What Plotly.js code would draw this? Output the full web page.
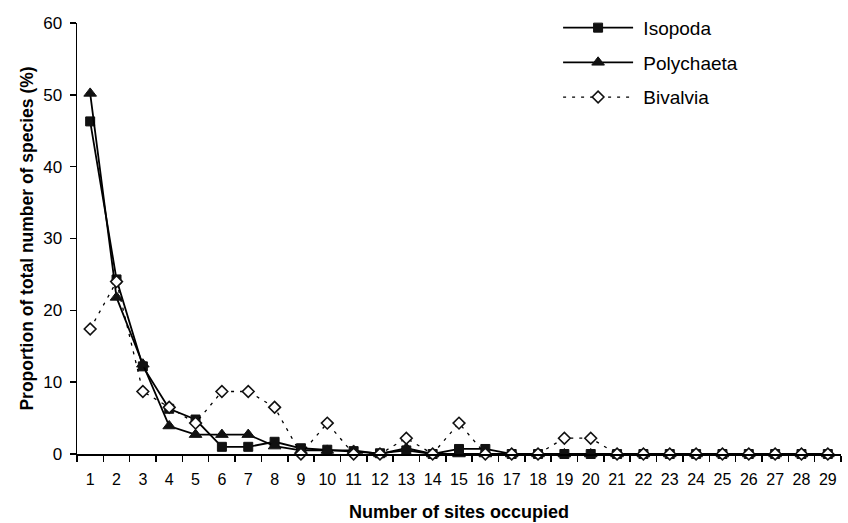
<!DOCTYPE html>
<html>
<head>
<meta charset="utf-8">
<script src="https://cdn.plot.ly/plotly-3.0.1.min.js"></script>
<style>html,body{margin:0;padding:0;background:#fff;}#chart{width:848px;height:523px;}</style>
</head>
<body>
<div id="chart"></div>
<script>
const sites = ["1","2","3","4","5","6","7","8","9","10","11","12","13","14","15","16","17","18","19","20","21","22","23","24","25","26","27","28","29"];
const isopoda =    [46.3, 24.3, 12.2, 6.3, 4.8, 1.0, 1.0, 1.7, 0.8, 0.6, 0.4, 0.1, 0.5, 0, 0.7, 0.7, 0, 0, 0, 0, 0, 0, 0, 0, 0, 0, 0, 0, 0];
const polychaeta = [50.2, 21.8, 12.5, 3.9, 2.7, 2.7, 2.7, 1.1, 0.5, 0.5, 0.5, 0, 0.8, 0, 0, 0, 0, 0, 0, 0, 0, 0, 0, 0, 0, 0, 0, 0, 0];
const bivalvia =   [17.4, 24.0, 8.7, 6.5, 4.3, 8.7, 8.7, 6.5, 0, 4.3, 0, 0, 2.2, 0, 4.3, 0, 0, 0, 2.2, 2.2, 0, 0, 0, 0, 0, 0, 0, 0, 0];
const seriesNames = ["Isopoda", "Polychaeta", "Bivalvia"];

const FONT = "Liberation Sans, Arial, Helvetica, sans-serif";
const traces = [
  {x: sites, y: isopoda, name: "\u00a0" + seriesNames[0], legendgroup: "a", type: "scatter", mode: "lines+markers", cliponaxis: false,
   line: {color: "#000", width: 1.8},
   marker: {symbol: "square", size: 9, color: "#111", line: {color: "#111", width: 1}}},
  {x: sites, y: polychaeta, name: "\u00a0" + seriesNames[1], legendgroup: "b", type: "scatter", mode: "lines+markers", cliponaxis: false,
   line: {color: "#000", width: 1.8},
   marker: {symbol: "triangle-up", size: 11, color: "#111", line: {color: "#111", width: 1}}},
  {x: sites, y: bivalvia, name: "\u00a0" + seriesNames[2], legendgroup: "c", type: "scatter", mode: "lines+markers", cliponaxis: false,
   line: {color: "#000", width: 1.3, dash: "3px,6px"},
   marker: {symbol: "diamond", size: 9, color: "#fff", line: {color: "#111", width: 1.6}}}
];

const layout = {
  width: 848, height: 523,
  margin: {l: 77, r: 7, t: 23, b: 69, autoexpand: false},
  paper_bgcolor: "#fff", plot_bgcolor: "#fff",
  font: {family: FONT, color: "#000"},
  showlegend: true,
  legend: {x: 0.6297, xanchor: "left", y: 1.033, yanchor: "top", font: {size: 19, family: FONT},
           traceorder: "grouped", tracegroupgap: 7, itemwidth: 70, bgcolor: "rgba(0,0,0,0)"},
  xaxis: {type: "category", range: [-0.5, 28.5], tickson: "boundaries", ticks: "outside", ticklen: 6, tickwidth: 1.5, tickcolor: "#000",
          showline: true, linecolor: "#000", linewidth: 1.5, showgrid: false, zeroline: false, tickangle: 0,
          tickfont: {size: 16, family: FONT}, ticklabelstandoff: 10, automargin: false,
          title: {text: "Number of sites occupied", font: {size: 18, family: FONT, weight: "bold"}, standoff: 18}},
  yaxis: {range: [0, 60], dtick: 10, ticks: "outside", ticklen: 6, tickwidth: 1.5, tickcolor: "#000",
          showline: true, linecolor: "#000", linewidth: 1.5, showgrid: false, zeroline: false,
          tickfont: {size: 17, family: FONT}, ticklabelstandoff: 4, automargin: false,
          title: {text: "Proportion of total number of species (%)", font: {size: 17.5, family: FONT, weight: "bold"}, standoff: 5}}
};

Plotly.newPlot("chart", traces, layout, {displayModeBar: false, staticPlot: true});
</script>
</body>
</html>
